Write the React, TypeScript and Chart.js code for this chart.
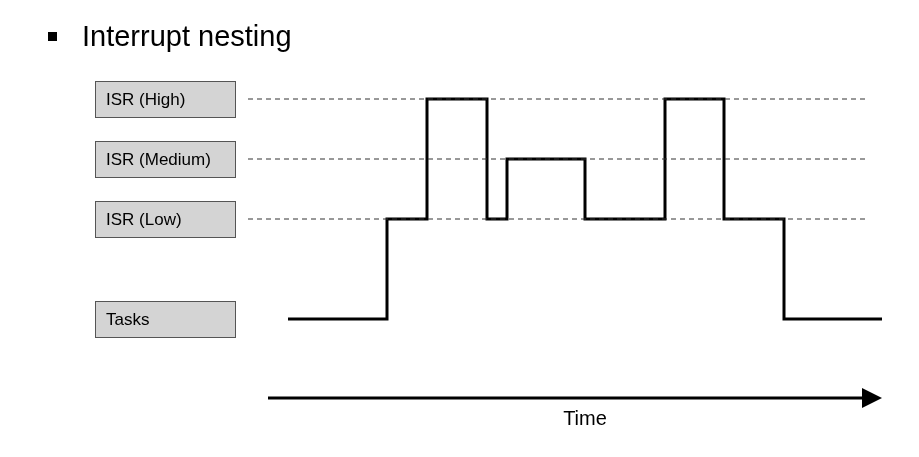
import { useEffect, useRef } from 'react';
import { Chart, registerables } from 'chart.js';

Chart.register(...registerables);

// levels (y units) and their labels
const levelNames = ['Tasks', 'ISR (Low)', 'ISR (Medium)', 'ISR (High)'];
const levelValues = [0, 5, 8, 11];
// execution trace: time -> level at that time (held until next point)
const traceTimes = [4, 13.9, 17.9, 23.9, 25.9, 33.7, 41.7, 47.6, 53.6, 63.4];
const traceLevels = [0, 5, 11, 5, 8, 5, 11, 5, 0, 0];
const dashEnd = 61.7;

export default function App() {
  const ref = useRef<HTMLCanvasElement>(null);
  const chart = useRef<Chart | null>(null);

  useEffect(() => {
    if (!ref.current) return;
    if (chart.current) chart.current.destroy();
    const ctx = ref.current.getContext('2d');
    if (!ctx) return;

    const dashed = levelValues.slice(1).map(v => ({
      data: [{ x: 0, y: v }, { x: dashEnd, y: v }],
      borderColor: '#333',
      borderWidth: 1,
      borderDash: [5, 4],
      pointRadius: 0,
    }));

    const decor = {
      id: 'decor',
      afterDraw(c: Chart) {
        const g = c.ctx;
        const ys = c.scales.y;
        const xs = c.scales.x;
        g.save();
        // title
        g.fillStyle = '#000';
        g.fillRect(48, 32, 9, 9);
        g.font = '29px "Liberation Sans", Arial, sans-serif';
        g.textBaseline = 'alphabetic';
        g.fillText('Interrupt nesting', 82, 46);
        // level boxes
        g.font = '17px "Liberation Sans", Arial, sans-serif';
        g.textBaseline = 'middle';
        levelNames.forEach((n, i) => {
          const y = ys.getPixelForValue(levelValues[i]);
          g.fillStyle = '#d4d4d4';
          g.fillRect(95, y - 18, 140, 36);
          g.strokeStyle = '#555';
          g.lineWidth = 1;
          g.strokeRect(95.5, y - 17.5, 140, 36);
          g.fillStyle = '#000';
          g.fillText(n, 106, y + 1);
        });
        // time arrow
        const ay = 398;
        const x0 = xs.getPixelForValue(2);
        const x1 = xs.getPixelForValue(63.4);
        g.strokeStyle = '#000';
        g.lineWidth = 3;
        g.beginPath();
        g.moveTo(x0, ay);
        g.lineTo(x1 - 16, ay);
        g.stroke();
        g.beginPath();
        g.moveTo(x1, ay);
        g.lineTo(x1 - 20, ay - 10);
        g.lineTo(x1 - 20, ay + 10);
        g.closePath();
        g.fill();
        g.textAlign = 'center';
        g.font = '20px "Liberation Sans", Arial, sans-serif';
        g.fillText('Time', xs.getPixelForValue(33.7), 419);
        g.restore();
      },
    };

    chart.current = new Chart(ctx, {
      type: 'line',
      data: {
        datasets: [
          ...dashed,
          {
            data: traceTimes.map((t, i) => ({ x: t, y: traceLevels[i] })),
            borderColor: '#000',
            borderWidth: 3,
            stepped: 'before',
            pointRadius: 0,
          },
        ],
      },
      options: {
        animation: false,
        responsive: false,
        layout: { padding: { left: 248, right: 37, top: 80, bottom: 117 } },
        plugins: { legend: { display: false }, tooltip: { enabled: false } },
        scales: {
          x: { type: 'linear', min: 0, max: 63.4, display: false },
          y: { type: 'linear', min: -1.05, max: 11.95, display: false },
        },
      },
      plugins: [decor],
    });

    return () => {
      if (chart.current) chart.current.destroy();
    };
  }, []);

  return (
    <div style={{ position: 'fixed', left: 0, top: 0, width: 919, height: 457, background: '#fff' }}>
      <canvas ref={ref} width={919} height={457} />
    </div>
  );
}
